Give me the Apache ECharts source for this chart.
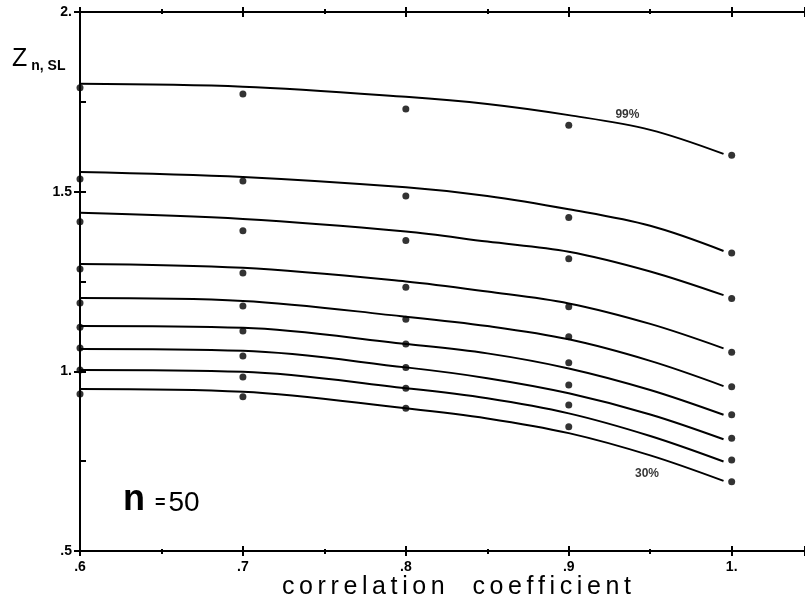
<!DOCTYPE html>
<html>
<head>
<meta charset="utf-8">
<script src="https://cdn.jsdelivr.net/npm/echarts@6/dist/echarts.min.js"></script>
<style>
  html, body { margin: 0; padding: 0; background: #fff; }
  #chart { width: 805px; height: 614px; }
</style>
</head>
<body>
<div id="chart"></div>
<script>
var curveX = [0.6, 0.7, 0.8, 0.85, 0.9, 0.95, 0.995];
// fitted curves, top (99%) to bottom (30%)
var curve1 = [1.800, 1.792, 1.764, 1.744, 1.713, 1.672, 1.605];
var curve2 = [1.555, 1.541, 1.512, 1.488, 1.451, 1.405, 1.335];
var curve3 = [1.441, 1.424, 1.389, 1.361, 1.333, 1.278, 1.212];
var curve4 = [1.299, 1.288, 1.250, 1.222, 1.189, 1.132, 1.064];
var curve5 = [1.204, 1.196, 1.152, 1.126, 1.089, 1.029, 0.959];
var curve6 = [1.126, 1.121, 1.076, 1.050, 1.008, 0.948, 0.879];
var curve7 = [1.062, 1.057, 1.011, 0.981, 0.939, 0.880, 0.811];
var curve8 = [1.004, 0.999, 0.953, 0.925, 0.883, 0.820, 0.749];
var curve9 = [0.951, 0.943, 0.897, 0.869, 0.828, 0.766, 0.695];

// simulated points
var dotX = [0.6, 0.7, 0.8, 0.9, 1.0];
var dots1 = [1.789, 1.772, 1.730, 1.685, 1.601];
var dots2 = [1.535, 1.530, 1.488, 1.428, 1.329];
var dots3 = [1.416, 1.391, 1.364, 1.313, 1.203];
var dots4 = [1.285, 1.274, 1.234, 1.180, 1.053];
var dots5 = [1.190, 1.182, 1.145, 1.096, 0.957];
var dots6 = [1.123, 1.112, 1.076, 1.024, 0.879];
var dots7 = [1.065, 1.043, 1.011, 0.962, 0.814];
var dots8 = [1.004, 0.984, 0.953, 0.906, 0.753];
var dots9 = [0.937, 0.929, 0.897, 0.846, 0.693];

var xTickLabels = {'0.6': '.6', '0.7': '.7', '0.8': '.8', '0.9': '.9', '1': '1.'};
var yTickLabels = {'0.5': '.5', '1': '1.', '1.5': '1.5', '2': '2.'};

// curve tags [x, y, text]
var curveTags = [[0.936, 1.715, '99%'], [0.948, 0.714, '30%']];

var curves = [curve1, curve2, curve3, curve4, curve5, curve6, curve7, curve8, curve9];
var dots = [dots1, dots2, dots3, dots4, dots5, dots6, dots7, dots8, dots9];

function zip(xs, ys) {
    return xs.map(function (x, i) { return [x, ys[i]]; });
}

// spaced-out lettering, one rich token per character
function spaced(str) {
    return str.split('').map(function (ch) { return '{c|' + ch + '}'; }).join('');
}

var series = [];
curves.forEach(function (c, i) {
    series.push({
        name: 'curve' + (i + 1),
        type: 'line',
        smooth: 0.35,
        showSymbol: false,
        data: zip(curveX, c),
        lineStyle: {color: '#000', width: 2},
        silent: true
    });
});
var allDots = [];
dots.forEach(function (d) { allDots = allDots.concat(zip(dotX, d)); });
series.push({
    name: 'points',
    type: 'scatter',
    symbolSize: 7,
    clip: false,
    itemStyle: {color: '#000'},
    data: allDots
});
series.push({
    name: 'tags',
    type: 'scatter',
    symbolSize: 0,
    data: curveTags,
    label: {
        show: true,
        position: 'inside',
        formatter: function (p) { return p.value[2]; },
        color: '#000',
        fontFamily: 'Liberation Sans',
        fontWeight: 'bold',
        fontSize: 12
    }
});

var font = 'Liberation Sans';
var axisLine = {show: true, lineStyle: {color: '#000', width: 2}};

var chart = echarts.init(document.getElementById('chart'));
chart.setOption({
    animation: false,
    backgroundColor: '#fff',
    grid: {left: 80, right: 0, top: 12, bottom: 63},
    xAxis: [{
        type: 'value', min: 0.6, max: 1.045, interval: 0.1, position: 'bottom',
        axisLine: axisLine,
        axisTick: {show: true, inside: false, length: 5, lineStyle: {color: '#000', width: 2}},
        minorTick: {show: true, splitNumber: 2, length: 3, lineStyle: {color: '#000', width: 2}},
        splitLine: {show: false},
        axisLabel: {
            margin: 9, color: '#000', fontFamily: font, fontWeight: 'bold', fontSize: 14,
            showMaxLabel: false,
            formatter: function (v) { return xTickLabels[String(+v.toFixed(2))] || ''; }
        }
    }, {
        type: 'value', min: 0.6, max: 1.045, interval: 0.1, position: 'top',
        axisLine: axisLine,
        axisTick: {show: true, inside: false, length: 5, lineStyle: {color: '#000', width: 2}},
        minorTick: {show: true, splitNumber: 2, length: 3, lineStyle: {color: '#000', width: 2}},
        splitLine: {show: false},
        axisLabel: {show: false}
    }, {
        type: 'value', min: 0.6, max: 1.045, interval: 0.1, position: 'bottom',
        axisLine: {show: false},
        axisTick: {show: true, inside: true, length: 5, lineStyle: {color: '#000', width: 2}},
        minorTick: {show: true, splitNumber: 2, length: 2, lineStyle: {color: '#000', width: 2}},
        splitLine: {show: false},
        axisLabel: {show: false}
    }, {
        type: 'value', min: 0.6, max: 1.045, interval: 0.1, position: 'top',
        axisLine: {show: false},
        axisTick: {show: true, inside: true, length: 5, lineStyle: {color: '#000', width: 2}},
        minorTick: {show: true, splitNumber: 2, length: 2, lineStyle: {color: '#000', width: 2}},
        splitLine: {show: false},
        axisLabel: {show: false}
    }],
    yAxis: [{
        type: 'value', min: 0.5, max: 2.0, interval: 0.5, position: 'left',
        axisLine: axisLine,
        axisTick: {show: true, inside: false, length: 6, lineStyle: {color: '#000', width: 2}},
        minorTick: {show: false},
        splitLine: {show: false},
        axisLabel: {
            margin: 8, color: '#000', fontFamily: font, fontWeight: 'bold', fontSize: 14,
            formatter: function (v) { return yTickLabels[String(+v.toFixed(2))] || ''; }
        }
    }, {
        type: 'value', min: 0.5, max: 2.0, interval: 0.5, position: 'left',
        axisLine: {show: false},
        axisTick: {show: true, inside: true, length: 6, lineStyle: {color: '#000', width: 2}},
        minorTick: {show: true, splitNumber: 2, length: 6, lineStyle: {color: '#000', width: 2}},
        splitLine: {show: false},
        axisLabel: {show: false}
    }],
    series: series,
    graphic: [{
        type: 'text', left: 12, top: 47,
        style: {
            text: '{z|Z}{s|n, SL}',
            rich: {
                z: {fontFamily: font, fontSize: 25, fill: '#000'},
                s: {fontFamily: font, fontSize: 14, fontWeight: 'bold', fill: '#000', padding: [14, 0, 0, 4]}
            }
        }
    }, {
        type: 'text', left: 123, top: 482,
        style: {
            text: '{n|n}{e|=}{v|50}',
            rich: {
                n: {fontFamily: font, fontSize: 36, fontWeight: 'bold', fill: '#000'},
                e: {fontFamily: font, fontSize: 18, fontWeight: 'bold', fill: '#000', padding: [6, 3, 0, 10]},
                v: {fontFamily: font, fontSize: 28, fill: '#000', padding: [6, 0, 0, 0]}
            }
        }
    }, {
        type: 'text', left: 282, top: 575,
        style: {
            text: spaced('correlation  coefficient'),
            rich: {
                c: {fontFamily: font, fontSize: 25, fill: '#000', padding: [0, 2.3, 0, 2.3]}
            }
        }
    }]
});
</script>
</body>
</html>
